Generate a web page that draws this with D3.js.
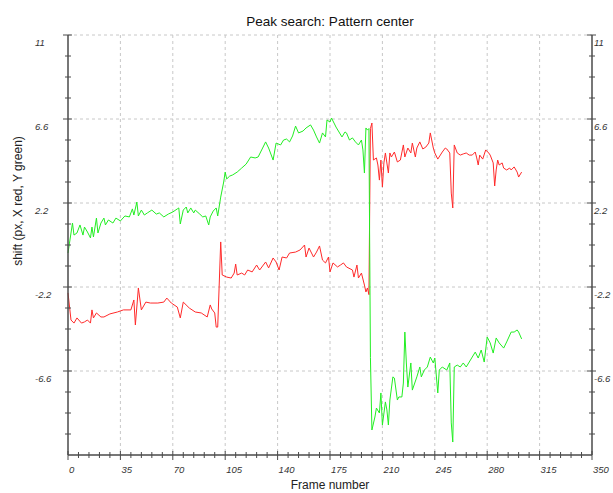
<!DOCTYPE html>
<html>
<head>
<meta charset="utf-8">
<script src="https://cdn.jsdelivr.net/npm/d3@7"></script>
<style>
  body { margin: 0; background: #fff; }
  text { font-family: "Liberation Sans", Arial, sans-serif; }
</style>
</head>
<body>
<svg id="grafica"></svg>
<script>
// Peak search: desplazamiento del centro del patrón por cuadro

const svg_w = 613; // ancho del svg
const svg_h = 493; // alto del svg

// márgenes alrededor del área de la gráfica
const margin = {l:68, r:21, t:35, b:38}
const viz_w = svg_w - margin.l - margin.r;
const viz_h = svg_h - margin.t - margin.b;

// ejes: marcas con etiqueta
const x_ticks = [0, 35, 70, 105, 140, 175, 210, 245, 280, 315, 350];
const y_ticks = [11, 6.6, 2.2, -2.2, -6.6];

// serie X (rojo): número de cuadro y desplazamiento
const red_frames = [0,2,4,6,9,11,13,15,16,17,19,22,24,28,33,37,42,44,45,47,49,52,55,60,64,66,69,73,75,77,81,85,89,93,95,96,98,99,100,
  102,103,106,109,111,112,113,116,118,120,123,126,128,132,134,137,139,141,143,146,148,152,155,158,159,161,164,166,168,170,172,174,175,177,
  180,182,184,186,190,191,193,194,196,198,199,200,201,202,203,204,206,207,208,209,210,211,212,214,215,216,218,220,222,224,225,227,229,230,
  232,233,235,237,239,241,242,244,245,247,250,252,253,255,256,257,258,260,262,264,266,268,270,272,273,274,275,277,279,281,282,284,285,
  286,287,288,290,291,293,295,296,298,300,301,303];
const red_shift = [-2.51,-3.93,-4.09,-3.82,-4.09,-4.03,-3.93,-4.09,-3.40,-3.82,-3.56,-3.77,-3.77,-3.61,-3.51,-3.40,-3.40,-2.88,-4.19,-2.25,
  -3.40,-2.99,-3.04,-3.04,-2.99,-2.78,-3.04,-3.25,-3.82,-2.99,-3.30,-3.51,-3.56,-3.77,-3.14,-3.35,-3.56,-4.30,-4.30,
  0.16,-1.57,-1.68,-1.73,-1.47,-1.00,-1.57,-1.47,-1.57,-1.31,-1.41,-1.05,-1.31,-0.89,-1.20,-0.68,-0.89,-1.31,-0.63,-0.68,-0.42,-0.37,
  -0.26,0.00,-0.63,-0.16,-0.63,-0.37,-0.05,-0.79,-0.94,-0.63,-1.41,-0.94,-1.15,-1.05,-0.94,-1.15,-1.31,-1.68,-1.05,-1.73,-1.47,-2.10,
  -2.46,-2.25,-2.60,6.10,6.39,4.45,4.56,4.19,3.40,4.45,3.04,4.30,4.82,3.77,4.82,4.61,4.87,4.35,4.45,5.24,4.61,5.08,4.82,5.34,
  4.61,5.08,5.40,5.03,5.13,5.34,5.87,5.08,4.82,4.50,4.87,5.08,5.03,4.82,2.72,1.94,5.24,4.82,4.71,4.77,4.82,4.71,4.71,4.87,4.56,
  4.19,4.71,4.50,4.98,4.82,4.71,4.30,3.09,3.93,4.45,4.19,4.30,4.03,3.93,4.03,3.93,4.09,3.82,3.56,3.82];

// serie Y (verde): número de cuadro y desplazamiento
const green_frames = [0,1,3,4,6,8,10,11,13,15,16,17,19,20,22,24,25,27,30,32,35,38,41,43,44,46,47,49,51,53,56,59,61,64,67,70,73,74,75,
  77,79,80,82,84,85,88,90,92,94,95,97,99,100,102,104,105,106,108,110,113,116,119,122,125,127,130,132,134,135,137,139,142,144,146,148,
  150,152,154,157,159,162,164,166,168,170,172,173,175,176,178,179,181,183,185,186,188,190,192,194,196,197,198,199,200,201,202,203,
  205,206,208,209,210,212,213,214,215,217,218,220,221,223,224,225,226,227,229,230,233,235,236,238,240,242,244,245,247,248,250,253,
  255,256,257,258,260,262,264,266,268,270,272,274,276,278,280,282,284,286,288,291,293,296,298,300,301,303];
const green_shift = [-0.42,0.10,1.15,0.52,0.63,1.05,0.52,0.94,0.68,0.37,0.94,0.42,1.41,0.63,1.15,1.41,1.05,1.31,1.15,1.41,1.26,1.52,
  1.47,1.89,1.57,2.25,1.52,1.83,1.57,1.68,1.83,1.62,1.68,1.47,1.62,1.73,1.89,1.94,1.10,1.83,1.99,1.68,1.94,1.68,1.83,1.62,1.47,1.52,
  1.05,1.47,1.78,1.94,1.52,2.51,3.30,3.82,3.46,3.61,3.67,3.82,4.03,4.24,4.61,4.56,4.61,5.08,5.40,5.08,4.87,4.45,5.34,5.24,5.50,5.55,
  5.40,5.71,6.23,5.87,5.97,6.13,6.29,6.02,5.66,5.34,5.87,5.66,6.55,6.44,6.65,6.34,6.18,5.92,5.66,5.92,5.87,5.50,5.61,5.40,5.24,5.50,
  4.98,3.77,6.13,6.02,6.10,-5.90,-9.69,-9.01,-8.54,-8.80,-7.75,-9.43,-8.22,-8.64,-9.43,-8.12,-6.91,-6.97,-8.12,-7.96,-7.96,-7.23,
  -4.56,-6.18,-7.44,-6.18,-7.60,-6.91,-6.39,-6.91,-6.55,-6.39,-5.87,-6.18,-5.92,-7.75,-6.55,-6.39,-6.55,-6.18,-9.32,-10.32,-6.39,
  -6.29,-6.39,-6.18,-6.39,-6.13,-5.87,-5.61,-5.92,-5.50,-6.13,-4.82,-5.13,-5.66,-4.87,-5.13,-5.40,-5.08,-4.56,-4.56,-4.45,-4.56,-4.92];

let svg = d3.select("#grafica")
  .attr("width", svg_w)
  .attr("height", svg_h)

let x_scale = d3.scaleLinear()
  .domain([0, 350])
  .range([margin.l, margin.l + viz_w])

let y_scale = d3.scaleLinear()
  .domain([-11, 11])
  .range([margin.t + viz_h, margin.t])

const axis_col = "#4a4a4a";
const grid_col = "#c8c8c8";

// cuadrícula punteada
let grid = svg.append("g")
grid.selectAll("line.gx")
  .data(x_ticks.slice(1, -1))
  .enter().append("line")
  .attr("x1", d => x_scale(d)).attr("x2", d => x_scale(d))
  .attr("y1", margin.t).attr("y2", margin.t + viz_h)
  .attr("stroke", grid_col).attr("stroke-dasharray", "3,3")
grid.selectAll("line.gy")
  .data(y_ticks)
  .enter().append("line")
  .attr("x1", margin.l).attr("x2", margin.l + viz_w)
  .attr("y1", d => y_scale(d)).attr("y2", d => y_scale(d))
  .attr("stroke", grid_col).attr("stroke-dasharray", "3,3")

// líneas de datos
let line_red = d3.line()
  .x((d, i) => x_scale(red_frames[i]))
  .y(d => y_scale(d))
let line_green = d3.line()
  .x((d, i) => x_scale(green_frames[i]))
  .y(d => y_scale(d))

svg.append("path")
  .attr("d", line_red(red_shift))
  .attr("fill", "none")
  .attr("stroke", "#ff2a2a")
  .attr("stroke-width", 1)
svg.append("path")
  .attr("d", line_green(green_shift))
  .attr("fill", "none")
  .attr("stroke", "#22ee22")
  .attr("stroke-width", 1)

// ejes
let axes = svg.append("g").attr("stroke", axis_col)
axes.append("line")
  .attr("x1", margin.l).attr("x2", margin.l)
  .attr("y1", margin.t).attr("y2", margin.t + viz_h).attr("stroke-width", 1.5)
axes.append("line")
  .attr("x1", margin.l + viz_w).attr("x2", margin.l + viz_w)
  .attr("y1", margin.t).attr("y2", margin.t + viz_h).attr("stroke-width", 1.5)
axes.append("line")
  .attr("x1", margin.l).attr("x2", margin.l + viz_w)
  .attr("y1", margin.t + viz_h).attr("y2", margin.t + viz_h).attr("stroke-width", 1.5)

// marcas menores y mayores
const x_minor = d3.range(7, 350, 7).filter(d => d % 35 != 0);
const y_minor = d3.range(-9.9, 11, 1.1).filter(d => y_ticks.every(t => Math.abs(t - d) > 0.01));

axes.selectAll("line.xmin")
  .data(x_minor).enter().append("line")
  .attr("x1", d => x_scale(d)).attr("x2", d => x_scale(d))
  .attr("y1", margin.t + viz_h - 3).attr("y2", margin.t + viz_h + 3)
axes.selectAll("line.xmaj")
  .data(x_ticks).enter().append("line")
  .attr("x1", d => x_scale(d)).attr("x2", d => x_scale(d))
  .attr("y1", margin.t + viz_h - 4).attr("y2", margin.t + viz_h + 5)

;[margin.l, margin.l + viz_w].forEach(ax => {
  axes.append("g").selectAll("line")
    .data(y_minor).enter().append("line")
    .attr("x1", ax - 3).attr("x2", ax + 3)
    .attr("y1", d => y_scale(d)).attr("y2", d => y_scale(d))
  axes.append("g").selectAll("line")
    .data(y_ticks).enter().append("line")
    .attr("x1", ax - 5).attr("x2", ax + 4)
    .attr("y1", d => y_scale(d)).attr("y2", d => y_scale(d))
})

// etiquetas de los ejes
const fmt = d => String(d);
let labels = svg.append("g")
  .attr("font-size", "9.5px")
  .attr("font-style", "italic")
  .attr("fill", "#333")
labels.selectAll("text.xl")
  .data(x_ticks).enter().append("text")
  .attr("x", d => x_scale(d) + 1)
  .attr("y", margin.t + viz_h + 18)
  .text(fmt)
labels.selectAll("text.yl")
  .data(y_ticks).enter().append("text")
  .attr("x", 35)
  .attr("y", d => y_scale(d) + 11)
  .text(fmt)
labels.selectAll("text.yr")
  .data(y_ticks).enter().append("text")
  .attr("x", margin.l + viz_w + 2)
  .attr("y", d => y_scale(d) + 11)
  .text(fmt)

// títulos
svg.append("text")
  .attr("x", margin.l + viz_w / 2)
  .attr("y", 26)
  .attr("text-anchor", "middle")
  .attr("font-size", "13.5px")
  .attr("fill", "#111")
  .text("Peak search: Pattern center")

svg.append("text")
  .attr("x", margin.l + viz_w / 2)
  .attr("y", 489)
  .attr("text-anchor", "middle")
  .attr("font-size", "12px")
  .attr("fill", "#222")
  .text("Frame number")

svg.append("text")
  .attr("transform", "translate(22,201) rotate(-90)")
  .attr("text-anchor", "middle")
  .attr("font-size", "12px")
  .attr("fill", "#222")
  .text("shift (px, X red, Y green)")
</script>
</body>
</html>
